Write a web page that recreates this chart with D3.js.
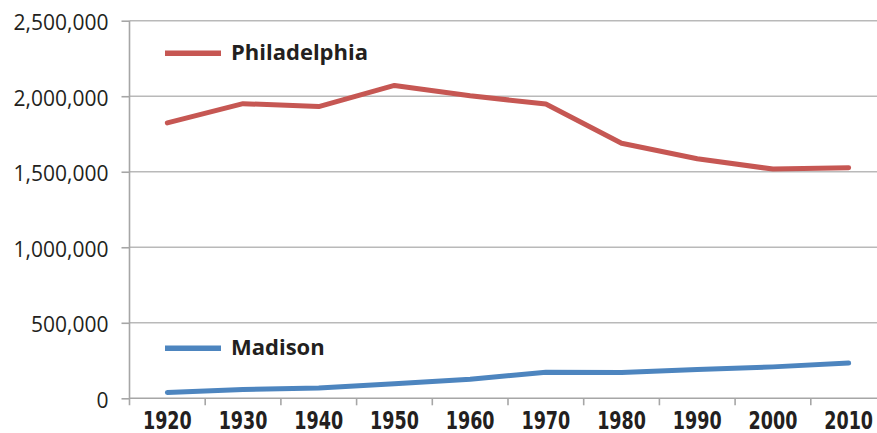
<!DOCTYPE html>
<html>
<head>
<meta charset="utf-8">
<script src="https://cdn.jsdelivr.net/npm/d3@7"></script>
<style>
  html, body { margin: 0; padding: 0; background: #fff; overflow: hidden; }
  svg { display: block; }
</style>
</head>
<body>
<svg id="chart" width="877" height="433"></svg>
<script>
const years = ["1920","1930","1940","1950","1960","1970","1980","1990","2000","2010"];
const philadelphia = [1823779,1950961,1931334,2071605,2002512,1948609,1688210,1585577,1517550,1526006];
const madison = [38378,57899,67447,96056,126706,171809,170616,191262,208054,233209];
const yTicks = [0,500000,1000000,1500000,2000000,2500000];
const seriesNames = ["Philadelphia","Madison"];
const seriesColors = ["#c65753","#4d85bf"];

(function () {
const W = 877, H = 433;
const mLeft = 129.5, mTop = 20.7, mBottom = 398.3;
const bandW = 75.7;

const svg = d3.select("#chart");

const x = d3.scaleBand().domain(years).range([mLeft, mLeft + bandW * years.length]).padding(0);
const y = d3.scaleLinear().domain([0, 2500000]).range([mBottom, mTop]);

// gridlines
svg.append("g").selectAll("line").data(yTicks.filter(d => d > 0)).join("line")
  .attr("x1", mLeft).attr("x2", W)
  .attr("y1", d => y(d)).attr("y2", d => y(d))
  .attr("stroke", "#b9b9b9").attr("stroke-width", 1.6);

// y axis
const yAxis = d3.axisLeft(y).tickValues(yTicks).tickSize(8).tickPadding(13)
  .tickFormat(d3.format(","));
const gy = svg.append("g").attr("transform", `translate(${mLeft},0)`).call(yAxis);
gy.select(".domain").remove();
gy.selectAll(".tick line").attr("stroke", "#a6a6a6").attr("stroke-width", 1.6);
gy.selectAll(".tick text")
  .attr("fill", "#231f20")
  .attr("dy", "0.42em")
  .style("font-family", "'Open Sans', 'Liberation Sans', sans-serif")
  .style("font-size", "21px");
svg.append("line")
  .attr("x1", mLeft).attr("x2", mLeft).attr("y1", mTop).attr("y2", mBottom + 7)
  .attr("stroke", "#a6a6a6").attr("stroke-width", 1.6);

// x axis
svg.append("line")
  .attr("x1", mLeft).attr("x2", W).attr("y1", mBottom).attr("y2", mBottom)
  .attr("stroke", "#a6a6a6").attr("stroke-width", 1.6);
svg.append("g").selectAll("line").data(years.slice(1)).join("line")
  .attr("x1", d => x(d)).attr("x2", d => x(d))
  .attr("y1", mBottom).attr("y2", mBottom + 7)
  .attr("stroke", "#a6a6a6").attr("stroke-width", 1.6);
svg.append("g").selectAll("text").data(years).join("text")
  .attr("transform", d => `translate(${x(d) + x.bandwidth() / 2},428.5) scale(0.78,1)`)
  .attr("text-anchor", "middle")
  .attr("fill", "#231f20")
  .style("font-family", "'DejaVu Sans Condensed', 'Liberation Sans', sans-serif")
  .style("font-stretch", "condensed")
  .style("font-weight", "bold")
  .style("font-size", "25px")
  .text(d => d);

// lines
const line = d3.line()
  .x((d, i) => x(years[i]) + x.bandwidth() / 2)
  .y(d => y(d));
[philadelphia, madison].forEach((data, k) => {
  svg.append("path")
    .datum(data)
    .attr("d", line)
    .attr("fill", "none")
    .attr("stroke", seriesColors[k])
    .attr("stroke-width", 5)
    .attr("stroke-linejoin", "round")
    .attr("stroke-linecap", "round");
});

// legends
const legendY = [53.3, 348.3];
seriesNames.forEach((name, k) => {
  const g = svg.append("g");
  g.append("line")
    .attr("x1", 165).attr("x2", 221)
    .attr("y1", legendY[k]).attr("y2", legendY[k])
    .attr("stroke", seriesColors[k]).attr("stroke-width", 5.5);
  g.append("text")
    .attr("x", 231).attr("y", legendY[k] + 6.8)
    .attr("fill", "#231f20")
    .style("font-family", "'Open Sans', 'Liberation Sans', sans-serif")
    .style("font-weight", "bold")
    .style("font-size", "22px")
    .text(name);
});
})();
</script>
</body>
</html>
